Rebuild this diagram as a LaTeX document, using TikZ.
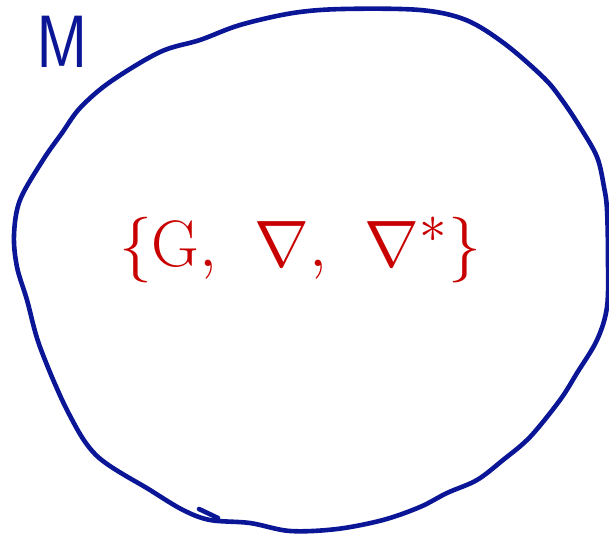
\documentclass[tikz,border=0pt]{standalone}
\usepackage{amsmath}
\definecolor{inkblue}{RGB}{10,22,150}
\definecolor{inkred}{RGB}{200,0,0}
\begin{document}
\begin{tikzpicture}[x=1pt,y=-1pt,
  bluestroke/.style={draw=inkblue,line width=4.6pt,line cap=round,line join=round},
  labelM/.style={text=inkblue,font=\fontsize{74}{74}\selectfont\sffamily,inner sep=0pt},
  setlabel/.style={text=inkred,font=\Huge,inner sep=0pt,scale=2.64}]
\useasboundingbox (0,0) rectangle (609,534);
\draw[bluestroke] plot[smooth cycle,tension=0.55] coordinates {
 (20,200) (14,235) (17,267) (27,300) (40,347) (68,412) (97,456) (150,490)
 (183,510) (210,520) (250,523) (290,531) (337,529) (383,520) (420,507)
 (447,493) (477,480) (503,460) (530,437) (560,400) (577,373) (597,340)
 (607,307) (608,260) (607,210) (604,187) (597,157) (580,127) (562,100)
 (544,78) (505,44) (466,20) (420,10) (343,9) (293,13) (240,25) (200,40)
 (160,52) (110,82) (80,108) (62,133) (43,160)};
\coordinate (tailA) at (199,509);
\coordinate (tailB) at (218,518);
\draw[bluestroke] (tailA) -- (tailB);
\node[labelM,xscale=0.85] (M) at (62,42) {M};
\node[setlabel,anchor=base] (S) at (300,266)
  {$\{\mathrm{G},\hspace{10pt}\nabla,\hspace{10pt}\nabla^{*}\}$};
\end{tikzpicture}
\end{document}
